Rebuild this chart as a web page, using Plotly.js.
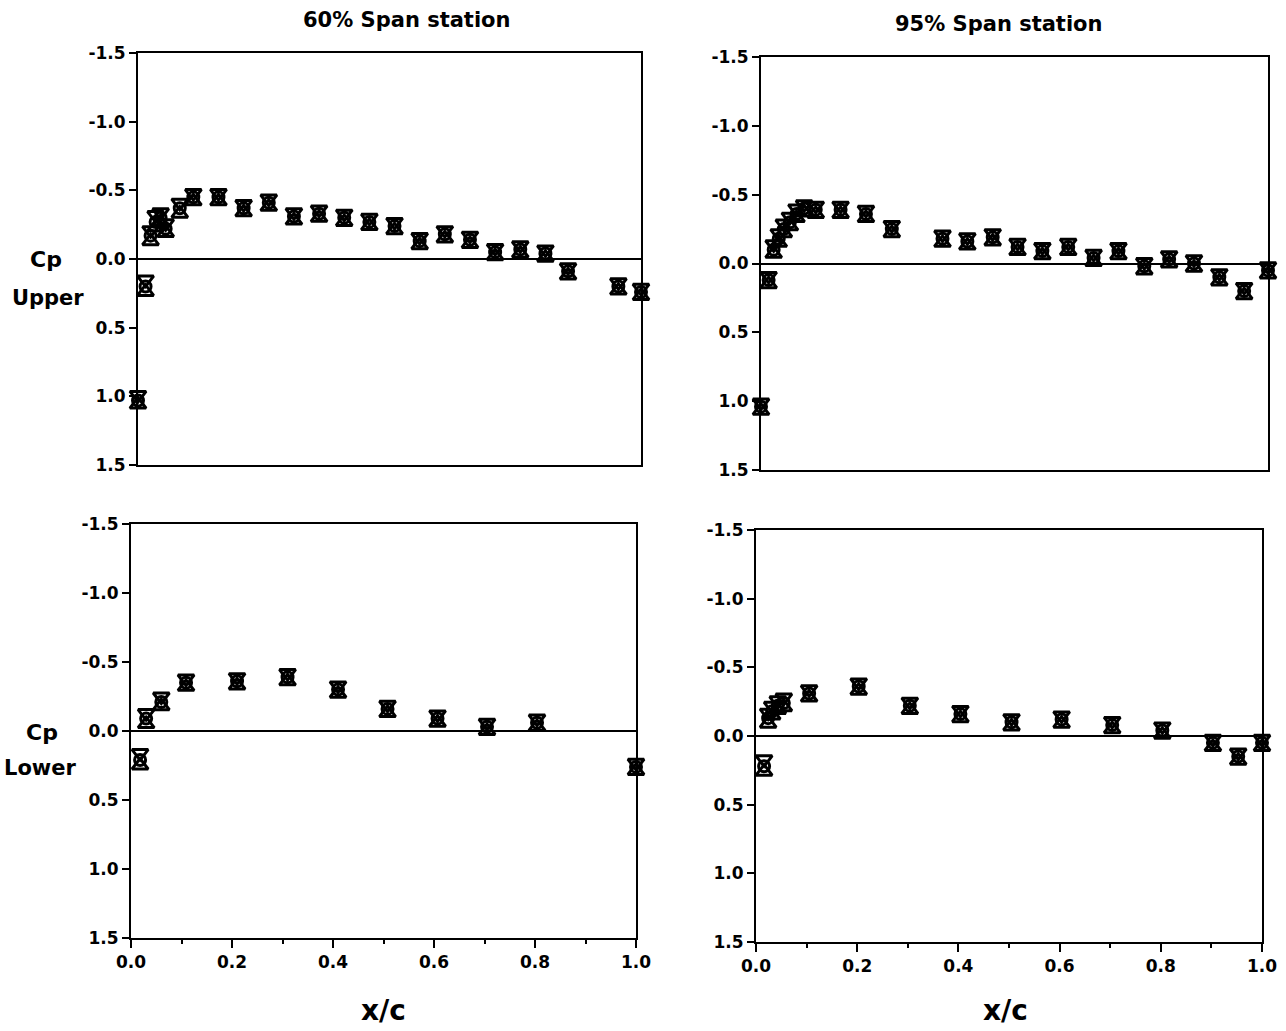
<!DOCTYPE html>
<html>
<head>
<meta charset="utf-8">
<script src="https://cdn.plot.ly/plotly-3.0.1.min.js"></script>
<style>html,body{margin:0;padding:0;background:#fff;}#chart{width:1286px;height:1031px;}</style>
</head>
<body>
<div id="chart"></div>
<script>
// ---- Data ----
// 60% span, upper surface
const x60u = [0.0, 0.015, 0.025, 0.035, 0.045, 0.055, 0.083, 0.11, 0.16, 0.21, 0.26, 0.31, 0.36, 0.41, 0.46, 0.51, 0.56, 0.61, 0.66, 0.71, 0.76, 0.81, 0.855, 0.955, 1.0];
const cpCirc60u = [1.03, 0.2, -0.17, -0.27, -0.3, -0.22, -0.37, -0.45, -0.45, -0.37, -0.41, -0.31, -0.33, -0.3, -0.27, -0.24, -0.13, -0.18, -0.14, -0.05, -0.07, -0.04, 0.09, 0.2, 0.24];
const cpUp60u   = [1.06, 0.24, -0.13, -0.23, -0.27, -0.19, -0.33, -0.42, -0.42, -0.34, -0.38, -0.28, -0.3, -0.27, -0.24, -0.21, -0.1, -0.15, -0.11, -0.02, -0.04, -0.01, 0.12, 0.23, 0.27];
const cpDn60u   = [0.99, 0.15, -0.21, -0.32, -0.34, -0.26, -0.41, -0.48, -0.48, -0.4, -0.44, -0.34, -0.36, -0.33, -0.3, -0.27, -0.16, -0.21, -0.17, -0.08, -0.1, -0.07, 0.06, 0.17, 0.21];

// 95% span, upper surface
const x95u = [0.0, 0.015, 0.025, 0.035, 0.045, 0.057, 0.07, 0.085, 0.108, 0.157, 0.207, 0.258, 0.358, 0.407, 0.457, 0.506, 0.555, 0.606, 0.656, 0.705, 0.756, 0.805, 0.854, 0.904, 0.953, 1.0];
const cpCirc95u = [1.04, 0.12, -0.1, -0.18, -0.25, -0.3, -0.36, -0.4, -0.39, -0.39, -0.36, -0.25, -0.18, -0.16, -0.19, -0.12, -0.09, -0.12, -0.04, -0.09, 0.02, -0.03, 0.0, 0.1, 0.2, 0.05];
const cpUp95u   = [1.07, 0.15, -0.07, -0.15, -0.22, -0.27, -0.33, -0.37, -0.36, -0.36, -0.33, -0.22, -0.15, -0.13, -0.16, -0.09, -0.06, -0.09, -0.01, -0.06, 0.05, 0.0, 0.03, 0.13, 0.23, 0.08];
const cpDn95u   = [1.01, 0.09, -0.14, -0.22, -0.29, -0.34, -0.4, -0.43, -0.42, -0.42, -0.39, -0.28, -0.21, -0.19, -0.22, -0.15, -0.12, -0.15, -0.07, -0.12, -0.01, -0.06, -0.03, 0.07, 0.17, 0.02];

// 60% span, lower surface
const x60l = [0.018, 0.03, 0.06, 0.109, 0.21, 0.31, 0.41, 0.508, 0.607, 0.705, 0.804, 1.0];
const cpCirc60l = [0.21, -0.09, -0.21, -0.35, -0.36, -0.39, -0.3, -0.16, -0.09, -0.03, -0.06, 0.26];
const cpUp60l   = [0.25, -0.05, -0.18, -0.32, -0.33, -0.36, -0.27, -0.13, -0.06, 0.0, -0.03, 0.29];
const cpDn60l   = [0.16, -0.13, -0.25, -0.38, -0.39, -0.42, -0.33, -0.19, -0.12, -0.06, -0.09, 0.23];

// 95% span, lower surface
const x95l = [0.016, 0.024, 0.032, 0.043, 0.055, 0.105, 0.203, 0.304, 0.404, 0.505, 0.604, 0.704, 0.803, 0.903, 0.953, 1.0];
const cpCirc95l = [0.22, -0.13, -0.18, -0.22, -0.24, -0.31, -0.36, -0.22, -0.16, -0.1, -0.12, -0.08, -0.04, 0.05, 0.15, 0.05];
const cpUp95l   = [0.26, -0.09, -0.15, -0.19, -0.21, -0.28, -0.33, -0.19, -0.13, -0.07, -0.09, -0.05, -0.01, 0.08, 0.18, 0.08];
const cpDn95l   = [0.17, -0.17, -0.22, -0.26, -0.28, -0.34, -0.39, -0.25, -0.19, -0.13, -0.15, -0.11, -0.07, 0.02, 0.12, 0.02];

// Tick labels
const yTickVals = [-1.5, -1.0, -0.5, 0.0, 0.5, 1.0, 1.5];
const yTickText = ["-1.5", "-1.0", "-0.5", "0.0", "0.5", "1.0", "1.5"];
const xTickVals = [0.0, 0.2, 0.4, 0.6, 0.8, 1.0];
const xTickText = ["0.0", "0.2", "0.4", "0.6", "0.8", "1.0"];

// Titles / labels
const panelTitles = ["60% Span station", "95% Span station"];
const rowLabels = [["Cp", "Upper"], ["Cp", "Lower"]];
const xLabel = "x/c";

// ---- Build traces ----
const FONT = "DejaVu Sans, Arial, sans-serif";
const panels = [
  {x: x60u, c: cpCirc60u, u: cpUp60u, d: cpDn60u, xa: 'x',  ya: 'y'},
  {x: x95u, c: cpCirc95u, u: cpUp95u, d: cpDn95u, xa: 'x2', ya: 'y2'},
  {x: x60l, c: cpCirc60l, u: cpUp60l, d: cpDn60l, xa: 'x3', ya: 'y3'},
  {x: x95l, c: cpCirc95l, u: cpUp95l, d: cpDn95l, xa: 'x4', ya: 'y4'}
];
const traces = [];
panels.forEach(p => {
  [[p.d, 'triangle-down-open'], [p.u, 'triangle-up-open'], [p.c, 'circle-open']].forEach(([ys, sym]) => {
    traces.push({
      x: p.x, y: ys, xaxis: p.xa, yaxis: p.ya,
      type: 'scatter', mode: 'markers', cliponaxis: false, showlegend: false,
      marker: {symbol: sym, size: sym === 'circle-open' ? 11 : 14, color: 'black', line: {color: 'black', width: 3}}
    });
  });
});

const W = 1286, H = 1031;
function xd(a, b) { return [a / W, b / W]; }
function yd(top, bot) { return [1 - bot / H, 1 - top / H]; }

function yAxis(domain, anchor) {
  return {
    domain: domain, anchor: anchor, range: [1.5, -1.5],
    tickmode: 'array', tickvals: yTickVals, ticktext: yTickText,
    ticks: 'outside', ticklen: 7, tickwidth: 2, tickcolor: 'black',
    showline: true, linewidth: 2, linecolor: 'black', mirror: true,
    showgrid: false, zeroline: true, zerolinewidth: 2, zerolinecolor: 'black',
    tickfont: {family: FONT, size: 17, color: 'black', weight: 'bold'}
  };
}
function xAxis(domain, anchor, labels) {
  const ax = {
    domain: domain, anchor: anchor, range: [0, 1],
    showline: true, linewidth: 2, linecolor: 'black', mirror: true,
    showgrid: false, zeroline: false
  };
  if (labels) {
    Object.assign(ax, {
      tickmode: 'array', tickvals: xTickVals, ticktext: xTickText,
      ticks: 'outside', ticklen: 8, tickwidth: 2, tickcolor: 'black',
      minor: {dtick: 0.1, tick0: 0, ticks: 'outside', ticklen: 4, tickwidth: 2, tickcolor: 'black', showgrid: false},
      tickfont: {family: FONT, size: 17, color: 'black', weight: 'bold'}
    });
  } else {
    Object.assign(ax, {ticks: '', showticklabels: false});
  }
  return ax;
}

const layout = {
  width: W, height: H,
  margin: {l: 0, r: 0, t: 0, b: 0},
  paper_bgcolor: 'white', plot_bgcolor: 'white',
  showlegend: false,
  xaxis:  xAxis(xd(138, 641), 'y', false),
  yaxis:  yAxis(yd(53, 465), 'x'),
  xaxis2: xAxis(xd(761, 1268), 'y2', false),
  yaxis2: yAxis(yd(57, 470), 'x2'),
  xaxis3: xAxis(xd(131, 636), 'y3', true),
  yaxis3: yAxis(yd(524, 938), 'x3'),
  xaxis4: xAxis(xd(756, 1262), 'y4', true),
  yaxis4: yAxis(yd(530, 942), 'x4'),
  annotations: []
};
function ann(text, px, py, size) {
  layout.annotations.push({
    text: text, x: px / W, y: 1 - py / H, xref: 'paper', yref: 'paper',
    xanchor: 'center', yanchor: 'middle', showarrow: false,
    font: {family: FONT, size: size, color: 'black', weight: 'bold'}
  });
}
ann(panelTitles[0], 407, 20, 21);
ann(panelTitles[1], 999, 24, 21);
ann(rowLabels[0][0], 46, 260, 22);
ann(rowLabels[0][1], 48, 298, 21);
ann(rowLabels[1][0], 42, 732, 22);
ann(rowLabels[1][1], 40, 768, 21);
ann(xLabel, 383, 1010, 28);
ann(xLabel, 1005, 1010, 28);

Plotly.newPlot('chart', traces, layout, {staticPlot: true, displayModeBar: false});
</script>
</body>
</html>
